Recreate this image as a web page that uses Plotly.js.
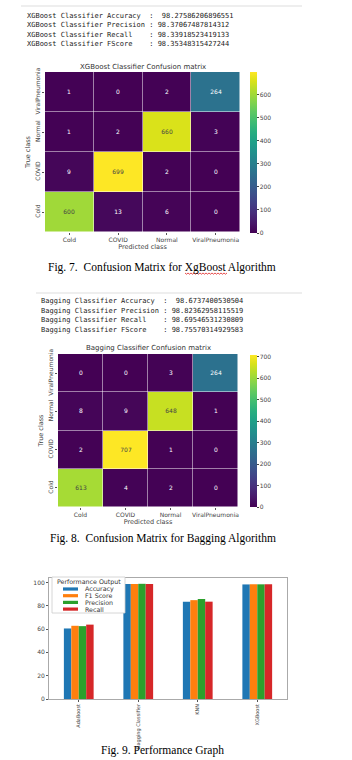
<!DOCTYPE html>
<html>
<head>
<meta charset="utf-8">
<script src="https://cdn.plot.ly/plotly-3.0.1.min.js"></script>
<style>
html,body{margin:0;padding:0;background:#fff;}
#chart{width:352px;height:760px;}
</style>
</head>
<body>
<div id="chart"></div>
<script>
// ---------- DATA ----------
const classes = ["Cold", "COVID", "Normal", "ViralPneumonia"];
// rows = true class (Cold, COVID, Normal, ViralPneumonia), cols = predicted class
const xgbCold   = [600, 13, 6, 0];
const xgbCovid  = [9, 699, 2, 0];
const xgbNormal = [1, 2, 660, 3];
const xgbViral  = [1, 0, 2, 264];
const bagCold   = [613, 4, 2, 0];
const bagCovid  = [2, 707, 1, 0];
const bagNormal = [8, 9, 648, 1];
const bagViral  = [0, 0, 3, 264];

const metricNames = ["Accuracy", "Precision", "Recall", "FScore"];
const xgbMetricText = ["98.27586206896551", "98.37067487814312", "98.33918523419133", "98.35348315427244"];
const bagMetricText = ["98.6737400530504", "98.82362958115519", "98.69546531230809", "98.75570314929583"];

const models = ["AdaBoost", "Bagging Classifier", "KNN", "XGBoost"];
const seriesNames = ["Accuracy", "F1 Score", "Precision", "Recall"];
const accuracy  = [60.5, 98.67, 83.5, 98.28];
const f1score   = [62.8, 98.76, 84.8, 98.35];
const precision = [62.5, 98.82, 85.8, 98.37];
const recall    = [63.8, 98.70, 83.5, 98.34];

const captions = ["Fig. 7.  Confusion Matrix for XgBoost Algorithm",
                  "Fig. 8.  Confusion Matrix for Bagging Algorithm",
                  "Fig. 9. Performance Graph"];

// ---------- LAYOUT HELPERS ----------
const W = 352, H = 760;
const px = v => v / W;
const py = v => 1 - v / H;
const seriesColors = ["#1f77b4", "#ff7f0e", "#2ca02c", "#d62728"];
const sans = "DejaVu Sans, sans-serif";
const mono = "DejaVu Sans Mono, monospace";
const serif = "Liberation Serif, Times New Roman, serif";
const nb = s => s.replace(/ /g, "\u00a0");

function metricLines(prefix, vals) {
  return metricNames.map((m, i) => {
    const lab = (prefix + " Classifier " + m).padEnd(29, " ");
    const sep = m === "Accuracy" ? ":  " : ": ";
    return nb(lab + sep + vals[i]);
  });
}

function heatAxis(domain, anchor, extra) {
  return Object.assign({
    domain: domain, anchor: anchor, showgrid: false, zeroline: false,
    ticks: "outside", ticklen: 2, tickcolor: "#555",
    tickfont: {family: sans, size: 6, color: "#444"},
    showline: false
  }, extra || {});
}

const traces = [
  {
    type: "heatmap", x: classes, y: classes,
    z: [xgbCold, xgbCovid, xgbNormal, xgbViral],
    xaxis: "x", yaxis: "y", colorscale: "Viridis",
    texttemplate: "%{z}", textfont: {family: sans, size: 6},
    xgap: 0.5, ygap: 0.5,
    colorbar: {x: px(250), xanchor: "left", thickness: 7, len: 161 / H, y: py(152.5),
      yanchor: "middle", outlinewidth: 0, ticks: "outside", ticklen: 2, dtick: 100,
      tickfont: {family: sans, size: 6, color: "#444"}, xpad: 0, ypad: 0},
    hoverinfo: "skip"
  },
  {
    type: "heatmap", x: classes, y: classes,
    z: [bagCold, bagCovid, bagNormal, bagViral],
    xaxis: "x2", yaxis: "y2", colorscale: "Viridis",
    texttemplate: "%{z}", textfont: {family: sans, size: 6},
    xgap: 0.5, ygap: 0.5,
    colorbar: {x: px(250), xanchor: "left", thickness: 7, len: 152 / H, y: py(431),
      yanchor: "middle", outlinewidth: 0, ticks: "outside", ticklen: 2, dtick: 100,
      tickfont: {family: sans, size: 6, color: "#444"}, xpad: 0, ypad: 0},
    hoverinfo: "skip"
  }
];
const barVals = [accuracy, f1score, precision, recall];
barVals.forEach((vals, i) => {
  traces.push({type: "bar", x: models, y: vals, name: seriesNames[i],
    marker: {color: seriesColors[i]}, xaxis: "x3", yaxis: "y3", showlegend: false});
});

const annotations = [];
function textLines(lines, x0, y0, dy) {
  lines.forEach((t, i) => annotations.push({xref: "paper", yref: "paper",
    x: px(x0), y: py(y0 + i * dy), xanchor: "left", yanchor: "middle", showarrow: false,
    text: t, font: {family: mono, size: 7, color: "#222"}}));
}
textLines(metricLines("XGBoost", xgbMetricText), 25, 16, 9.4);
textLines(metricLines("Bagging", bagMetricText), 39, 301, 9.6);

function addText(t, x, y, size, fam, color, xa) {
  annotations.push({xref: "paper", yref: "paper", x: px(x), y: py(y), xanchor: xa || "center",
    yanchor: "middle", showarrow: false, text: t, font: {family: fam, size: size, color: color}});
}
addText("XGBoost Classifier Confusion matrix", 142.5, 67, 7, sans, "#333");
addText("Bagging Classifier Confusion matrix", 148, 348, 7, sans, "#333");
addText(captions[0], 46, 267, 11.5, serif, "#000", "left");
addText(captions[1], 48, 538, 11.5, serif, "#000", "left");
addText(captions[2], 162, 750, 11.5, serif, "#000");

// custom legend for the bar chart
const shapes = [
  {type: "line", xref: "paper", yref: "paper", x0: px(21), x1: px(302), y0: py(6), y1: py(6), line: {color: "#ddd", width: 1}},
  {type: "line", xref: "paper", yref: "paper", x0: px(36), x1: px(302), y0: py(293), y1: py(293), line: {color: "#ddd", width: 1}},
  {type: "rect", xref: "paper", yref: "paper", x0: px(52), x1: px(125), y0: py(577), y1: py(613), fillcolor: "#fff", line: {color: "#ccc", width: 0.8}}
];
addText("Performance Output", 55, 582, 6.3, sans, "#333", "left");
seriesNames.forEach((n, i) => {
  const yy = 589 + i * 6.7;
  shapes.push({type: "rect", xref: "paper", yref: "paper", x0: px(63), x1: px(78), y0: py(yy - 1.6), y1: py(yy + 1.6),
    fillcolor: seriesColors[i], line: {width: 0}});
  addText(n, 83, yy, 6.3, sans, "#333", "left");
});
// spell-check squiggle under "XgBoost"
let sq = "M " + px(185) + "," + py(273);
for (let xx = 185, k = 0; xx < 227; xx += 1.5, k++) {
  sq += " L " + px(xx + 1.5) + "," + py(273 + (k % 2 ? 0 : 1.2));
}
shapes.push({type: "path", xref: "paper", yref: "paper", path: sq, line: {color: "#e02020", width: 0.8}});

const layout = {
  width: W, height: H, margin: {l: 0, r: 0, t: 0, b: 0},
  paper_bgcolor: "#fff", plot_bgcolor: "#fff", showlegend: false,
  xaxis: heatAxis([px(45), px(240)], "y", {title: {text: "Predicted class", font: {family: sans, size: 6.5, color: "#444"}, standoff: 2}}),
  yaxis: heatAxis([py(232), py(72)], "x", {tickangle: -90, title: {text: "True class", font: {family: sans, size: 6.5, color: "#444"}, standoff: 2}}),
  xaxis2: heatAxis([px(58), px(238)], "y2", {title: {text: "Predicted class", font: {family: sans, size: 6.5, color: "#444"}, standoff: 2}}),
  yaxis2: heatAxis([py(507), py(354)], "x2", {tickangle: -90, title: {text: "True class", font: {family: sans, size: 6.5, color: "#444"}, standoff: 2}}),
  xaxis3: {domain: [px(49), px(287)], anchor: "y3", showgrid: false, zeroline: false,
    showline: true, mirror: true, linecolor: "#aaa", linewidth: 1, ticks: "outside", ticklen: 2, tickcolor: "#555",
    tickangle: -90, tickfont: {family: sans, size: 5, color: "#444"}},
  yaxis3: {domain: [py(699), py(578)], anchor: "x3", range: [0, 103.8], showgrid: false, zeroline: false,
    showline: true, mirror: true, linecolor: "#aaa", linewidth: 1, ticks: "outside", ticklen: 2, tickcolor: "#555",
    dtick: 20, tickfont: {family: sans, size: 6, color: "#444"}},
  barmode: "group", bargap: 0.5, bargroupgap: 0,
  annotations: annotations, shapes: shapes
};

Plotly.newPlot("chart", traces, layout, {displayModeBar: false, staticPlot: true});
</script>
</body>
</html>
